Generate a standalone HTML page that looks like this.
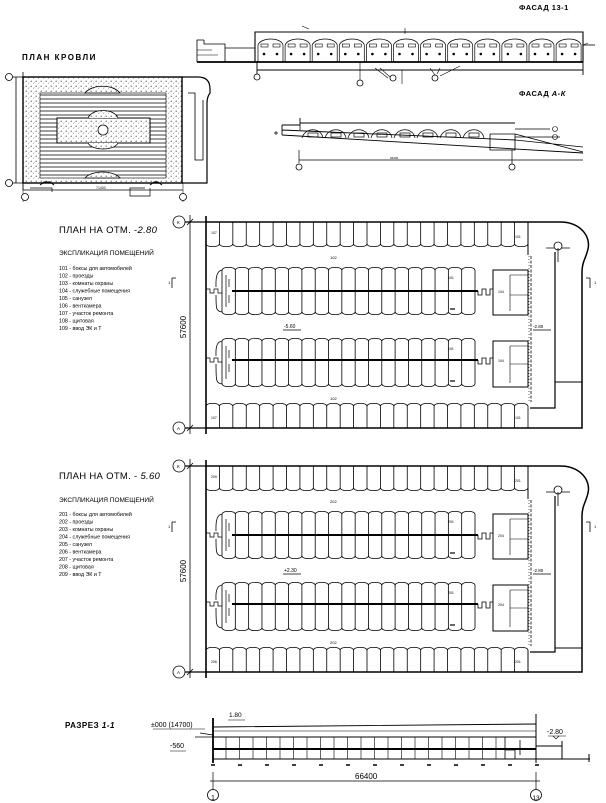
<!DOCTYPE html>
<html><head><meta charset="utf-8">
<style>
html,body{margin:0;padding:0;background:#fff;}
svg{display:block;}
text{font-family:"Liberation Sans","DejaVu Sans",sans-serif;fill:#000;}
</style></head>
<body>
<svg id="s" xmlns="http://www.w3.org/2000/svg" width="606" height="803" viewBox="0 0 606 803">
<defs>
<pattern id="dots" width="5" height="5" patternUnits="userSpaceOnUse">
<rect width="5" height="5" fill="#fff"/>
<circle cx="1.2" cy="1.2" r="0.6" fill="#444"/>
<path d="M3 3.5 l1.3 -0.8" stroke="#555" stroke-width="0.5"/>
</pattern>
</defs>
<g id="g" fill="none" stroke="#000" stroke-width="0.8">
</g>
<text x="519" y="10" font-size="7.5" font-weight="bold" letter-spacing="0.5">ФАСАД  13-1</text>
<text x="519" y="96" font-size="7.5" font-weight="bold" letter-spacing="0.5">ФАСАД  <tspan font-style="italic">А-К</tspan></text>
<text x="22" y="60" font-size="8" font-weight="bold" letter-spacing="1.5">ПЛАН КРОВЛИ</text>

<text x="59" y="233" font-size="9.5" letter-spacing="0.3">ПЛАН НА ОТМ. -<tspan font-style="italic">2.80</tspan></text>
<text x="59" y="255" font-size="6.5">ЭКСПЛИКАЦИЯ ПОМЕЩЕНИЙ</text>
<g font-size="5.3">
<text x="59" y="270">101 - боксы для автомобилей</text>
<text x="59" y="277.5">102 - проезды</text>
<text x="59" y="285">103 - комнаты охраны</text>
<text x="59" y="292.5">104 - служебные помещения</text>
<text x="59" y="300">105 - санузел</text>
<text x="59" y="307.5">106 - венткамера</text>
<text x="59" y="315">107 - участок ремонта</text>
<text x="59" y="322.5">108 - щитовая</text>
<text x="59" y="330">109 - ввод ЭК и Т</text>
</g>

<text x="59" y="479" font-size="9.5" letter-spacing="0.3">ПЛАН НА ОТМ. - <tspan font-style="italic">5.60</tspan></text>
<text x="59" y="502" font-size="6.5">ЭКСПЛИКАЦИЯ ПОМЕЩЕНИЙ</text>
<g font-size="5.3">
<text x="59" y="516">201 - боксы для автомобилей</text>
<text x="59" y="523.5">202 - проезды</text>
<text x="59" y="531">203 - комнаты охраны</text>
<text x="59" y="538.5">204 - служебные помещения</text>
<text x="59" y="546">205 - санузел</text>
<text x="59" y="553.5">206 - венткамера</text>
<text x="59" y="561">207 - участок ремонта</text>
<text x="59" y="568.5">208 - щитовая</text>
<text x="59" y="576">209 - ввод ЭК и Т</text>
</g>

<text transform="translate(186,327) rotate(-90)" font-size="8" text-anchor="middle">57600</text>
<text transform="translate(186,571) rotate(-90)" font-size="8" text-anchor="middle">57600</text>

<text x="65" y="728" font-size="8" font-weight="bold" letter-spacing="0.5">РАЗРЕЗ  <tspan font-style="italic">1-1</tspan></text>
<text x="151" y="727" font-size="7">±000 (14700)</text>
<text x="229" y="717" font-size="6.5">1.80</text>
<text x="170" y="748" font-size="7">-560</text>
<text x="547" y="734" font-size="7">-2.80</text>
<text x="355" y="779" font-size="8">66400</text>
<text x="213" y="800" font-size="7" text-anchor="middle">1</text>
<text x="536" y="800" font-size="6.5" text-anchor="middle">13</text>
</svg>
<script>
var g=document.getElementById('g');var NS='http://www.w3.org/2000/svg';
function el(t,a){var e=document.createElementNS(NS,t);for(var k in a)e.setAttribute(k,a[k]);g.appendChild(e);return e;}
function P(d,w,extra){var a={d:d};if(w)a['stroke-width']=w;if(extra)for(var k in extra)a[k]=extra[k];return el('path',a);}
function C(x,y,r,w){return el('circle',{cx:x,cy:y,r:r,'stroke-width':w||0.8,fill:'#fff'});}
function T(x,y,s,fs){var e=document.createElementNS(NS,'text');e.setAttribute('x',x);e.setAttribute('y',y);e.setAttribute('font-size',fs||4);e.setAttribute('stroke','none');e.textContent=s;g.appendChild(e);}
function stalls(x0,x1,n,yW,yO,b){var w=(x1-x0)/n,d='';for(var i=0;i<=n;i++){var x=x0+i*w;d+='M'+x+','+yW+'V'+yO;}
 d+='M'+x0+','+yO;for(var i=0;i<n;i++){var x=x0+i*w;d+='C'+(x+1)+','+(yO+b)+' '+(x+w-1)+','+(yO+b)+' '+(x+w)+','+yO;}P(d);}
function plan(dy,v){
 var y=function(q){return q+dy;};
 P('M190,'+y(215)+'V'+y(434));P('M187,'+y(225)+'l6,-6M187,'+y(431)+'l6,-6');
 C(179,y(222),6);C(179,y(428),6);
 T(177,y(224),'К',4.5);T(177,y(430),'А',4.5);
 P('M185,'+y(222)+'H206M185,'+y(428)+'H206',1.2);
 P('M206,'+y(216)+'V'+y(434),1.6);
 P('M206,'+y(222)+'H560C580,'+y(222)+' 591,'+y(236)+' 588,'+y(249)+'C586,'+y(258)+' 582,'+y(262)+' 582,'+y(272)+'V'+y(428)+'H206',1.5);
 stalls(206,528,24,y(222),y(244),3.5);
 stalls(206,528,24,y(428),y(406),-3.5);
 P('M528,'+y(222)+'V'+y(255),1);
 P('M531,'+y(256)+'V'+y(402),0.8,{'stroke-dasharray':'3,1.5'});
 P('M529,'+y(256)+'V'+y(402),0.6,{'stroke-dasharray':'1,2'});
 P('M555,'+y(252)+'V'+y(408)+'H530',1.2);
 P('M555,'+(v?y(404):y(382))+'H582',1);
 if(v){P('M528,'+y(406)+'V'+y(428));}
 P('M546,'+y(248)+'H570');C(558,y(246),4);P('M558,'+y(248)+'V'+y(262));
 [[267,291,315],[338,360,387]].forEach(function(r){
  stalls(222,475,19,y(r[1]),y(r[0]+3),-3.5);
  stalls(222,475,19,y(r[1]),y(r[2]-3),3.5);
  P('M232,'+y(r[1])+'H478',2);
  P('M478,'+y(r[1])+'v4h4v-6h4v6h4v-6h3',0.8);
  P('M222,'+y(r[0]+3)+'C215,'+y(r[0]+4)+' 216,'+y(r[1]-8)+' 216,'+y(r[1]-4)+'M216,'+y(r[1]+4)+'C216,'+y(r[2]-6)+' 216,'+y(r[2]-4)+' 222,'+y(r[2]-3));
  P('M206,'+y(r[1]-2)+'h4v4h4v-4h4v4h4',0.7);
  P('M226,'+y(r[0]+8)+'v'+(r[2]-r[0]-16)+'M229,'+y(r[0]+12)+'v8M229,'+y(r[1]+4)+'v8',0.7);
  P('M493,'+y(r[0]+3)+'H528V'+y(r[2])+'H493Z',1);
  P('M510,'+y(r[0]+8)+'H528M510,'+y(r[0]+8)+'V'+y(r[2]-4)+'M510,'+y(r[1]+4)+'H528',0.6);
  T(498,y(r[1]+2),(dy?'204':'104'),3.5);T(448,y(r[0]+12),(dy?'201':'101'),3.5);
  P('M450,'+y(r[2]-6)+'h5',1.2);
 });
 T(330,y(259),dy?'202':'102',4);T(330,y(400),dy?'202':'102',4);
 T(211,y(234),dy?'209':'107',3.5);T(515,y(238),dy?'201':'101',3.5);
 T(211,y(419),dy?'206':'107',3.5);T(515,y(419),dy?'201':'101',3.5);
 P('M283,'+y(330)+'h18',0.8);T(284,y(328),dy?'+2.30':'-5.60',5);
 P('M533,'+y(330)+'h18',0.8);T(533,y(328),'-2.80',4.5);
 T(168,y(284),'1',4);P('M172,'+y(278)+'v10M172,'+y(278)+'h4',0.8);
 T(594,y(284),'1',4);P('M590,'+y(278)+'v10M590,'+y(278)+'h-4',0.8);
}
plan(0,false);plan(244,true);

el('rect',{x:23,y:77,width:159,height:106,fill:'url(#dots)','stroke-width':1.4});
el('rect',{x:40,y:93,width:126,height:85,fill:'#fff','stroke-width':0.6});
var d='';for(var yy=95;yy<178;yy+=4)d+='M40,'+yy+'H166';P(d,0.7);
el('path',{d:'M85,93 C92,84 113,84 120,93Z',fill:'url(#dots)','stroke-width':0.8});
el('path',{d:'M85,178 C92,170 113,170 120,178Z',fill:'url(#dots)','stroke-width':0.8});
el('rect',{x:57,y:118,width:93,height:25,fill:'url(#dots)','stroke-width':1});
el('path',{d:'M88,118 C92,108 114,108 118,118 M88,143 C92,151 114,151 118,143',fill:'url(#dots)','stroke-width':0.8});
C(103,130,5,0.8);
P('M182,77H198Q210,77 210,89V93Q207,97 207,103V183H182',1.2);
P('M188,93H195V160H203V100',0.8);
P('M23,72V190M16,77V183M5,77H23M5,183H23',0.8);
C(9,77,3.5);C(9,183,3.5);
P('M23,190H183',0.8);T(96,189,'71400',3.5);
P('M23,183V202M183,183V202',0.5);
C(25,197,3.5);C(183,197,3.5);
P('M30,188h22v4M145,188h-15v8h20v-8',0.7);
P('M40,185l4,-3h6l4,3M150,185l4,-3h4l4,3',1);

P('M197,62H583',1.8);
P('M197,62V40H204M204,40V44H225V62M225,48H255',0.8);
P('M197,55H218M197,50H212',0.6);
P('M255,62V32H583V62',1.1);
P('M257,70H583M257,62V75M583,62V75',0.9);
for(var i=0;i<12;i++){var x=257+i*27.1;
 P('M'+(x+1)+',62V45C'+(x+4)+',37 '+(x+24)+',37 '+(x+26)+',45V62',0.7);
 el('rect',{x:x+4,y:44,width:7,height:3,'stroke-width':0.6});
 el('rect',{x:x+16,y:44,width:7,height:3,'stroke-width':0.6});
 el('circle',{cx:x+7,cy:54,r:1.3,fill:'#000',stroke:'none'});
 el('circle',{cx:x+20,cy:54,r:1.3,fill:'#000',stroke:'none'});
}
P('M583,45l12,0',0.8);P('M583,45l5,-2',0.6);
C(257,77,3);C(360,83,3);C(435,78,3);C(393,78,3);
P('M360,62V80M375,68L388,78M380,68L390,77M430,68L435,75M440,68L437,74M460,66L440,76M402,70V84',0.6);
P('M405,28V34M302,26l7,3',0.6);

P('M300,118V123H515',0.9);
P('M282,125H300M282,125V135M282,135L583,153M282,130L516,140',0.9);
P('M300,123V130',0.8);
for(var i=0;i<8;i++){var x=302+i*23;P('M'+x+',138C'+(x+3)+',127 '+(x+19)+',127 '+(x+21)+',138',0.7);
 el('rect',{x:x+6,y:133,width:10,height:4,'stroke-width':0.7});}
P('M490,134V150H515V134H490M515,134L583,152M515,140L583,147',0.8);
P('M515,129H550M515,137H560',0.8);
P('M299,150V163M299,160H583M512,150V168',0.7);
C(299,167,3);C(512,167,3);T(390,159,'66400',3);
P('M276,135v-4M278,133h-4',0.7);
el('circle',{cx:555,cy:129,r:2.5,'stroke-width':0.6});el('circle',{cx:555,cy:137,r:2.5,'stroke-width':0.6});

P('M213,718V763',1.8);P('M536,714V763',1);
P('M213,727L536,724M213,737H536',0.9);
P('M213,749H536',2);P('M213,759H590',0.9);
P('M213,731L536,731',0.5);
var dd='';for(var x=226;x<505;x+=13.5)dd+='M'+x+',737V759';P(dd,0.6);
dd='';for(var x=213;x<560;x+=27)dd+='M'+(x-2)+',765h4';P(dd,1.5);
P('M505,737V759M505,750H515V759M520,740V755',0.8);
P('M536,746H562M562,741V759M589,754V762',1);
P('M200,733L213,735M195,737L213,737',0.7);
P('M170,751H186M228,720H245M153,729H205',0.6);
P('M213,772V790M536,772V790M210,781H540',0.7);
C(213,795,5.5);C(536,795,5.5);
P('M548,736H566M553,736l3,3l3,-3',0.6);
</script>
</body></html>
